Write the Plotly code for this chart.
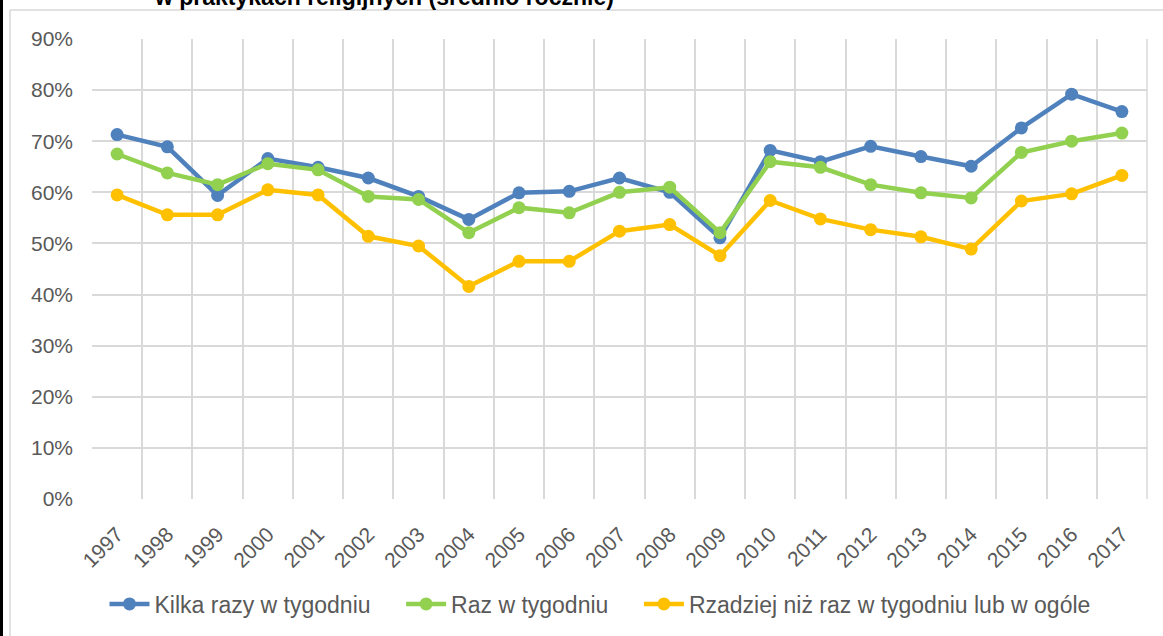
import plotly.graph_objects as go

years = [str(y) for y in range(1997, 2018)]
kilka = [71.3, 68.9, 59.4, 66.6, 64.9, 62.8, 59.2, 54.7, 59.9, 60.2, 62.8,
         60.0, 51.1, 68.2, 66.0, 69.0, 67.0, 65.1, 72.6, 79.2, 75.8]
raz = [67.5, 63.8, 61.5, 65.6, 64.4, 59.2, 58.6, 52.1, 57.0, 56.0, 60.0,
       61.0, 52.1, 66.0, 64.9, 61.5, 59.9, 58.9, 67.8, 70.0, 71.6]
rzadziej = [59.5, 55.6, 55.6, 60.5, 59.5, 51.4, 49.5, 41.6, 46.5, 46.5, 52.4,
            53.7, 47.6, 58.4, 54.8, 52.7, 51.3, 48.9, 58.3, 59.7, 63.3]
series_names = ["Kilka razy w tygodniu", "Raz w tygodniu",
                "Rzadziej niż raz w tygodniu lub w ogóle"]
colors = ["#4F81BD", "#92D050", "#FFC000"]
title_text = "w praktykach religijnych (średnio rocznie)"

W, H = 1163, 636
L, R, T, B = 92, 1147, 39, 500

fig = go.Figure()
for i, (name, vals, col) in enumerate(zip(series_names, [kilka, raz, rzadziej], colors)):
    pad = "\u00a0" * 4 if i < 2 else ""
    fig.add_trace(go.Scatter(
        x=years, y=[v / 100 for v in vals], name=name + pad, mode="lines+markers",
        line=dict(color=col, width=4.5),
        marker=dict(color=col, size=13),
    ))

def px(x):
    return (x - L) / (R - L)

def py(y):
    return (B - y) / (B - T)

shapes = [
    dict(type="rect", xref="paper", yref="paper", x0=px(-5), x1=px(3),
         y0=py(700), y1=py(-50), fillcolor="black", line=dict(width=0), layer="above"),
    dict(type="line", xref="paper", yref="paper", x0=px(10), x1=px(10),
         y0=py(10), y1=py(700), line=dict(color="#D9D9D9", width=1.5)),
    dict(type="line", xref="paper", yref="paper", x0=px(10), x1=px(1300),
         y0=py(10), y1=py(10), line=dict(color="#D9D9D9", width=1.5)),
    dict(type="line", xref="paper", yref="paper", x0=1, x1=1, y0=0, y1=1,
         line=dict(color="#D9D9D9", width=1.5)),
]

fig.update_layout(
    width=W, height=H,
    margin=dict(l=L, r=W - R, t=T, b=H - B),
    paper_bgcolor="white", plot_bgcolor="white",
    font=dict(family="Arial, Liberation Sans, sans-serif", color="#595959"),
    showlegend=True,
    legend=dict(orientation="h", x=px(600), xanchor="center", y=py(604), yanchor="middle",
                font=dict(size=23, color="#595959"), itemwidth=40),
    shapes=shapes,
    annotations=[dict(text="<b>" + title_text + "</b>", xref="paper", yref="paper",
                      x=px(384), y=py(12), xanchor="center", yanchor="bottom",
                      showarrow=False, font=dict(size=23, color="#000000"))],
    xaxis=dict(type="category", range=[-0.5, 20.5], tickson="boundaries",
               showgrid=True, gridcolor="#D9D9D9", gridwidth=1.5,
               ticks="", tickangle=-45, tickfont=dict(size=21, color="#595959"),
               ticklabelstandoff=18,
               showline=False, zeroline=False, fixedrange=True, automargin=False),
    yaxis=dict(range=[0, 0.9], dtick=0.1, tickformat=".0%",
               showgrid=True, gridcolor="#D9D9D9", gridwidth=1.5,
               tickfont=dict(size=21, color="#595959"), ticks="", ticklen=0,
               ticklabelstandoff=18,
               zeroline=False, showline=False, fixedrange=True, automargin=False),
)

fig.write_html("out.html", config={"displayModeBar": False},
               post_script="document.body.style.margin='0';document.body.style.overflow='hidden';")
